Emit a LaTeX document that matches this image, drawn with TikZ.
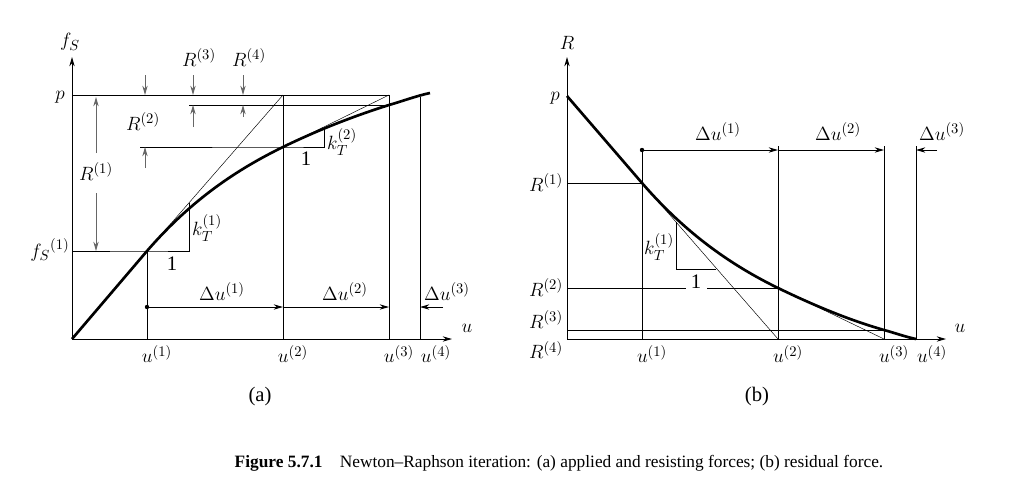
\documentclass[tikz,border=0pt]{standalone}
\usepackage{amsmath}
\usepackage{fontspec}
\setmainfont{Liberation Serif}
\usetikzlibrary{arrows.meta}
\tikzset{>={Stealth[length=7pt,width=4pt]}, % arrow heads
axis/.style={->, line width=0.7pt}, % the two axes
frame/.style={line width=0.7pt}, % construction lines
curve/.style={line width=2pt}, % the force curves
tangent/.style={line width=0.35pt}, % tangent lines
dim/.style={->, line width=0.7pt, black!60}, % dimension arrows
lbl/.style={font=\fontsize{15.5}{18}\selectfont, inner sep=1pt},
}

\begin{document}
\begin{tikzpicture}[x=0.75pt,y=-0.75pt]
\useasboundingbox (0,0) rectangle (1023,479);

% ---- (a) applied and resisting forces
\coordinate (O) at (72,339);
\coordinate (Ytop) at (72,57);
\coordinate (Xend) at (452,339);
\coordinate (P) at (72,95);
\coordinate (F1) at (72,251);
\coordinate (C1) at (147,251);
\coordinate (C2) at (283,147);
\coordinate (C3) at (389,105);
\coordinate (C4) at (420,97);
\coordinate (Cend) at (430,93);
\coordinate (U1) at (147,339);
\coordinate (U2) at (283,339);
\coordinate (U3) at (389,339);
\coordinate (U4) at (420,339);
\coordinate (T2) at (283,95);
\coordinate (T3) at (389,95);
\coordinate (K1) at (189,251);
\coordinate (K1t) at (189,203);
\coordinate (K2) at (324,147);
\coordinate (K2t) at (324,128);
\coordinate (R2a) at (140,147);
\coordinate (R3a) at (189,105);

\draw[axis] (O) -- (Ytop);
\draw[axis] (O) -- (Xend);
\draw[frame] (P) -- (T3);
\draw[frame] (F1) -- (C1) -- (K1) -- (K1t);
\draw[frame] (R2a) -- (C2) -- (K2) -- (K2t);
\draw[frame] (R3a) -- (C3);
\draw[frame] (U1) -- (C1);
\draw[frame] (U2) -- (T2);
\draw[frame] (U3) -- (T3);
\draw[frame] (U4) -- (C4);
\draw[tangent] (C1) -- (T2);
\draw[tangent] (C2) -- (T3);
\draw[curve] (O) -- (C1) .. controls (192,199) and (238,169) .. (C2)
  .. controls (318,130) and (354,116) .. (C3)
  .. controls (403,101) and (416,96) .. (Cend);

% residual arrows
\draw[dim] (96,153) -- (96,97);
\draw[dim] (96,193) -- (96,251);
\draw[dim] (145,75) -- (145,95);
\draw[dim] (145,168) -- (145,147);
\draw[dim] (193,75) -- (193,95);
\draw[dim] (193,127) -- (193,105);
\draw[dim] (243,75) -- (243,95);
\draw[dim] (243,117) -- (243,105);

% increments
\coordinate (D0) at (147,307);
\coordinate (D1) at (283,307);
\coordinate (D2) at (389,307);
\coordinate (D3) at (420,307);
\coordinate (D3s) at (443,307);
\fill (D0) circle (2.2);
\draw[->, frame] (D0) -- (D1);
\draw[->, frame] (D1) -- (D2);
\draw[->, frame] (D3s) -- (D3);

\node[lbl] (fs) at (70,42) {$f_S$};
\node[lbl] (p) at (60,97) {$p$};
\node[lbl] (fs1) at (50,250) {${f_S}^{(1)}$};
\node[lbl] (u) at (467,328) {$u$};
\node[lbl] (R1) at (96,172) {$R^{(1)}$};
\node[lbl] (R2) at (143,122) {$R^{(2)}$};
\node[lbl] (R3) at (199,58) {$R^{(3)}$};
\node[lbl] (R4) at (249,58) {$R^{(4)}$};
\node[lbl] (k1) at (207,228) {$k_T^{(1)}$};
\node[lbl] (one1) at (172,264) {1};
\node[lbl] (k2) at (342,142) {$k_T^{(2)}$};
\node[lbl] (one2) at (306,159) {1};
\node[lbl] (du1) at (222,292) {$\Delta u^{(1)}$};
\node[lbl] (du2) at (345,292) {$\Delta u^{(2)}$};
\node[lbl] (du3) at (447,292) {$\Delta u^{(3)}$};
\node[lbl] (u1) at (157,354) {$u^{(1)}$};
\node[lbl] (u2) at (293,354) {$u^{(2)}$};
\node[lbl] (u3) at (399,354) {$u^{(3)}$};
\node[lbl] (u4) at (436,354) {$u^{(4)}$};
\node[lbl] (a) at (260,397) {(a)};

% ---- (b) residual force
\coordinate (bO) at (567,339);
\coordinate (bYtop) at (567,57);
\coordinate (bXend) at (946,339);
\coordinate (bP) at (567,96);
\coordinate (bC1) at (642,183);
\coordinate (bC2) at (778,288);
\coordinate (bC3) at (884,330);
\coordinate (bC4) at (916,339);
\coordinate (bR1) at (567,183);
\coordinate (bR2) at (567,288);
\coordinate (bR3) at (567,330);
\coordinate (bGapL) at (686,288);
\coordinate (bGapR) at (707,288);
\coordinate (bU1) at (642,339);
\coordinate (bU2) at (778,339);
\coordinate (bU3) at (884,339);
\coordinate (bU1t) at (642,150);
\coordinate (bU2t) at (778,146);
\coordinate (bU3t) at (884,146);
\coordinate (bU4t) at (916,146);
\coordinate (bK) at (676,222);
\coordinate (bKb) at (676,269);
\coordinate (bKr) at (716,269);

\draw[axis] (bO) -- (bYtop);
\draw[axis] (bO) -- (bXend);
\draw[frame] (bR1) -- (bC1);
\draw[frame] (bR2) -- (bGapL);
\draw[frame] (bGapR) -- (bC2);
\draw[frame] (bR3) -- (bC3);
\draw[frame] (bU1) -- (bU1t);
\draw[frame] (bU2) -- (bU2t);
\draw[frame] (bU3) -- (bU3t);
\draw[frame] (bC4) -- (bU4t);
\draw[frame] (bK) -- (bKb) -- (bKr);
\draw[tangent] (bC1) -- (bU2);
\draw[tangent] (bC2) -- (bU3);
\draw[tangent] (bC3) -- (bC4);
\draw[curve] (bP) -- (bC1) .. controls (687,235) and (733,266) .. (bC2)
  .. controls (813,305) and (849,320) .. (bC3)
  .. controls (895,333) and (906,337) .. (bC4);

\coordinate (bD0) at (642,150);
\coordinate (bD1) at (778,150);
\coordinate (bD2) at (884,150);
\coordinate (bD3) at (916,150);
\coordinate (bD3s) at (937,150);
\fill (bD0) circle (2.2);
\draw[->, frame] (bD0) -- (bD1);
\draw[->, frame] (bD1) -- (bD2);
\draw[->, frame] (bD3s) -- (bD3);

\node[lbl] (R) at (567,43) {$R$};
\node[lbl] (bp) at (555,98) {$p$};
\node[lbl] (bRl1) at (546,183) {$R^{(1)}$};
\node[lbl] (bRl2) at (546,288) {$R^{(2)}$};
\node[lbl] (bRl3) at (546,320) {$R^{(3)}$};
\node[lbl] (bRl4) at (546,350) {$R^{(4)}$};
\node[lbl] (bu) at (960,328) {$u$};
\node[lbl] (bk1) at (659,247) {$k_T^{(1)}$};
\node[lbl] (bone) at (696,282) {1};
\node[lbl] (bdu1) at (718,132) {$\Delta u^{(1)}$};
\node[lbl] (bdu2) at (838,132) {$\Delta u^{(2)}$};
\node[lbl] (bdu3) at (942,132) {$\Delta u^{(3)}$};
\node[lbl] (bu1) at (652,354) {$u^{(1)}$};
\node[lbl] (bu2) at (788,354) {$u^{(2)}$};
\node[lbl] (bu3) at (894,354) {$u^{(3)}$};
\node[lbl] (bu4) at (932,354) {$u^{(4)}$};
\node[lbl] (b) at (757,397) {(b)};

% ---- caption
\node[font=\fontsize{13}{15}\selectfont] (cap) at (559,463)
  {\textbf{Figure 5.7.1}\quad Newton--Raphson iteration: (a) applied and resisting forces; (b) residual force.};
\end{tikzpicture}
\end{document}
